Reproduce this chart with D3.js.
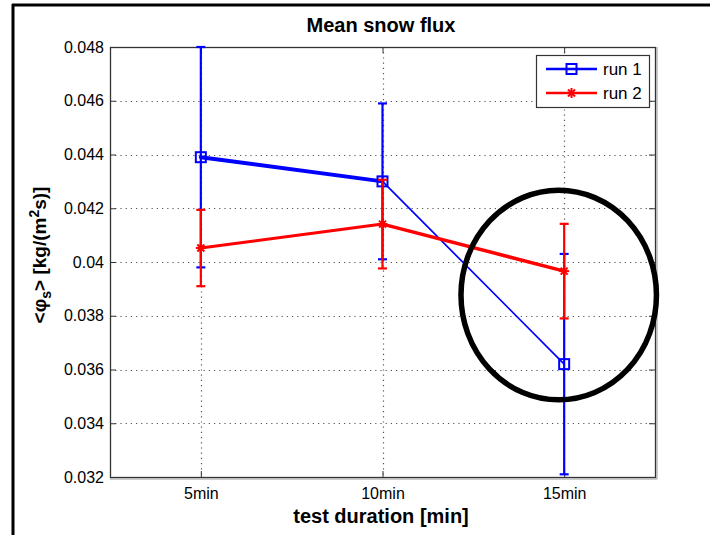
<!DOCTYPE html>
<html>
<head>
<meta charset="utf-8">
<script src="https://cdn.jsdelivr.net/npm/d3@7"></script>
<style>
  html, body { margin: 0; padding: 0; background: #fff; }
  svg { display: block; }
  text { font-family: "Liberation Sans", Arial, sans-serif; fill: #000; }
</style>
</head>
<body>
<svg id="chart" width="710" height="535"></svg>
<script>
// ---- data ----
const categories = ["5min", "10min", "15min"];
const yTicks = [0.032, 0.034, 0.036, 0.038, 0.04, 0.042, 0.044, 0.046, 0.048];
const yTickLabels = ["0.032", "0.034", "0.036", "0.038", "0.04", "0.042", "0.044", "0.046", "0.048"];
const run1Mean = [0.0439, 0.0430, 0.0362];
const run1Err  = [0.0041, 0.0029, 0.0041];
const run2Mean = [0.04052, 0.04141, 0.03966];
const run2Err  = [0.00142, 0.00165, 0.00176];
const seriesNames = ["run 1", "run 2"];
// annotation ellipse (in data units: category index, flux)
const ellipseCenter = [2.97, 0.03877];
const ellipseRadii = [0.538, 0.0039];

// ---- layout ----
const svg = d3.select("#chart");
const pLeft = 110, pRight = 655, pTop = 47, pBottom = 477;
const x = d3.scaleLinear().domain([0.5, 3.5]).range([pLeft, pRight]);
const y = d3.scaleLinear().domain([0.032, 0.048]).range([pBottom, pTop]);
const idx = categories.map((c, i) => i + 1);

// outer frame lines
svg.append("line").attr("x1", 12).attr("x2", 710).attr("y1", 5).attr("y2", 5)
  .attr("stroke", "#000").attr("stroke-width", 3);
svg.append("line").attr("x1", 13).attr("x2", 13).attr("y1", 4).attr("y2", 535)
  .attr("stroke", "#000").attr("stroke-width", 3);

// grid
const grid = svg.append("g");
grid.selectAll("line.gy").data(yTicks.slice(1, -1)).join("line")
  .attr("x1", pLeft).attr("x2", pRight)
  .attr("y1", d => Math.round(y(d)) + 0.5).attr("y2", d => Math.round(y(d)) + 0.5)
  .attr("stroke", "#555").attr("stroke-width", 1.2).attr("stroke-dasharray", "1.2,4");
grid.selectAll("line.gx").data(idx).join("line")
  .attr("y1", pTop).attr("y2", pBottom)
  .attr("x1", d => Math.round(x(d)) + 0.5).attr("x2", d => Math.round(x(d)) + 0.5)
  .attr("stroke", "#555").attr("stroke-width", 1.2).attr("stroke-dasharray", "1.2,4");

// axes with inward ticks
const axL = d3.axisLeft(y).tickValues(yTicks).tickFormat((d, i) => yTickLabels[i]).tickSizeInner(-6).tickSizeOuter(0).tickPadding(6);
const axR = d3.axisRight(y).tickValues(yTicks).tickFormat("").tickSizeInner(-6).tickSizeOuter(0);
const axB = d3.axisBottom(x).tickValues(idx).tickFormat((d, i) => categories[i]).tickSizeInner(-6).tickSizeOuter(0).tickPadding(11);
const axT = d3.axisTop(x).tickValues(idx).tickFormat("").tickSizeInner(-6).tickSizeOuter(0);

function styleAxis(g) {
  g.select(".domain").remove();
  g.selectAll(".tick line").attr("stroke", "#333");
  g.selectAll(".tick text").style("font-family", "'Liberation Sans', Arial, sans-serif")
    .style("font-size", "16px").attr("fill", "#222");
}
svg.append("g").attr("transform", `translate(${pLeft},0)`).call(axL).call(styleAxis);
svg.append("g").attr("transform", `translate(${pRight},0)`).call(axR).call(styleAxis);
svg.append("g").attr("transform", `translate(0,${pBottom})`).call(axB).call(styleAxis);
svg.append("g").attr("transform", `translate(0,${pTop})`).call(axT).call(styleAxis);

// axes box
svg.append("rect").attr("x", pLeft + 0.5).attr("y", pTop + 0.5)
  .attr("width", pRight - pLeft).attr("height", pBottom - pTop)
  .attr("fill", "none").attr("stroke", "#333").attr("stroke-width", 1.3);
svg.append("line").attr("x1", pLeft).attr("x2", pRight + 2).attr("y1", pBottom + 2).attr("y2", pBottom + 2)
  .attr("stroke", "#999").attr("stroke-width", 1);
svg.append("line").attr("x1", pRight + 2).attr("x2", pRight + 2).attr("y1", pTop).attr("y2", pBottom + 2)
  .attr("stroke", "#999").attr("stroke-width", 1);

// series drawing
function drawSeries(mean, err, color, segWidths, marker) {
  const g = svg.append("g");
  idx.forEach((d, i) => {
    const xv = x(d);
    const lo = y(mean[i] - err[i]), hi = y(mean[i] + err[i]);
    g.append("line").attr("x1", xv).attr("x2", xv).attr("y1", hi).attr("y2", lo)
      .attr("stroke", color).attr("stroke-width", 2.2);
    [hi, lo].forEach(yy => g.append("line").attr("x1", xv - 4.5).attr("x2", xv + 4.5)
      .attr("y1", yy).attr("y2", yy).attr("stroke", color).attr("stroke-width", 2.2));
  });
  for (let i = 0; i < mean.length - 1; i++) {
    g.append("line").attr("x1", x(idx[i])).attr("y1", y(mean[i]))
      .attr("x2", x(idx[i + 1])).attr("y2", y(mean[i + 1]))
      .attr("stroke", color).attr("stroke-width", segWidths[i]).attr("stroke-linecap", "round");
  }
  idx.forEach((d, i) => marker(g, x(d), y(mean[i]), color));
}
function squareMarker(g, cx, cy, color) {
  g.append("rect").attr("x", cx - 5).attr("y", cy - 5).attr("width", 10).attr("height", 10)
    .attr("fill", "none").attr("stroke", color).attr("stroke-width", 2);
}
function starMarker(g, cx, cy, color) {
  const r = 5;
  [[-r, 0, r, 0], [0, -r, 0, r], [-r * 0.7, -r * 0.7, r * 0.7, r * 0.7], [-r * 0.7, r * 0.7, r * 0.7, -r * 0.7]]
    .forEach(s => g.append("line").attr("x1", cx + s[0]).attr("y1", cy + s[1]).attr("x2", cx + s[2]).attr("y2", cy + s[3])
      .attr("stroke", color).attr("stroke-width", 2));
}
drawSeries(run1Mean, run1Err, "#0000ff", [4, 1.7], squareMarker);
drawSeries(run2Mean, run2Err, "#ff0000", [3, 3.5], starMarker);

// annotation ellipse
svg.append("ellipse")
  .attr("cx", x(ellipseCenter[0])).attr("cy", y(ellipseCenter[1]))
  .attr("rx", x(ellipseCenter[0] + ellipseRadii[0]) - x(ellipseCenter[0]))
  .attr("ry", y(ellipseCenter[1] - ellipseRadii[1]) - y(ellipseCenter[1]))
  .attr("fill", "none").attr("stroke", "#000").attr("stroke-width", 5.5);

// legend
const lg = svg.append("g");
lg.append("rect").attr("x", 536.5).attr("y", 55.5).attr("width", 113).attr("height", 52)
  .attr("fill", "#fff").attr("stroke", "#333").attr("stroke-width", 1.2);
const legendColors = ["#0000ff", "#ff0000"];
const legendMarkers = [squareMarker, starMarker];
seriesNames.forEach((name, i) => {
  const ly = 69 + i * 24;
  lg.append("line").attr("x1", 546).attr("x2", 597).attr("y1", ly).attr("y2", ly)
    .attr("stroke", legendColors[i]).attr("stroke-width", 2.5);
  legendMarkers[i](lg, 571.5, ly, legendColors[i]);
  lg.append("text").attr("x", 603).attr("y", ly + 6).text(name)
    .style("font-size", "17px").attr("fill", "#222");
});

// title and labels
svg.append("text").attr("x", 381).attr("y", 32).attr("text-anchor", "middle")
  .style("font-size", "20px").style("font-weight", "bold").text("Mean snow flux");
svg.append("text").attr("x", 381).attr("y", 523).attr("text-anchor", "middle")
  .style("font-size", "20px").style("font-weight", "bold").text("test duration [min]");
const yl = svg.append("text").attr("transform", "translate(46,255) rotate(-90)")
  .attr("text-anchor", "middle").style("font-size", "19px").style("font-weight", "bold");
yl.append("tspan").text("<φ");
yl.append("tspan").attr("dy", 5).style("font-size", "14px").text("s");
yl.append("tspan").attr("dy", -5).text("> [kg/(m");
yl.append("tspan").attr("dy", -7).style("font-size", "14px").text("2");
yl.append("tspan").attr("dy", 7).text("s)]");
</script>
</body>
</html>
